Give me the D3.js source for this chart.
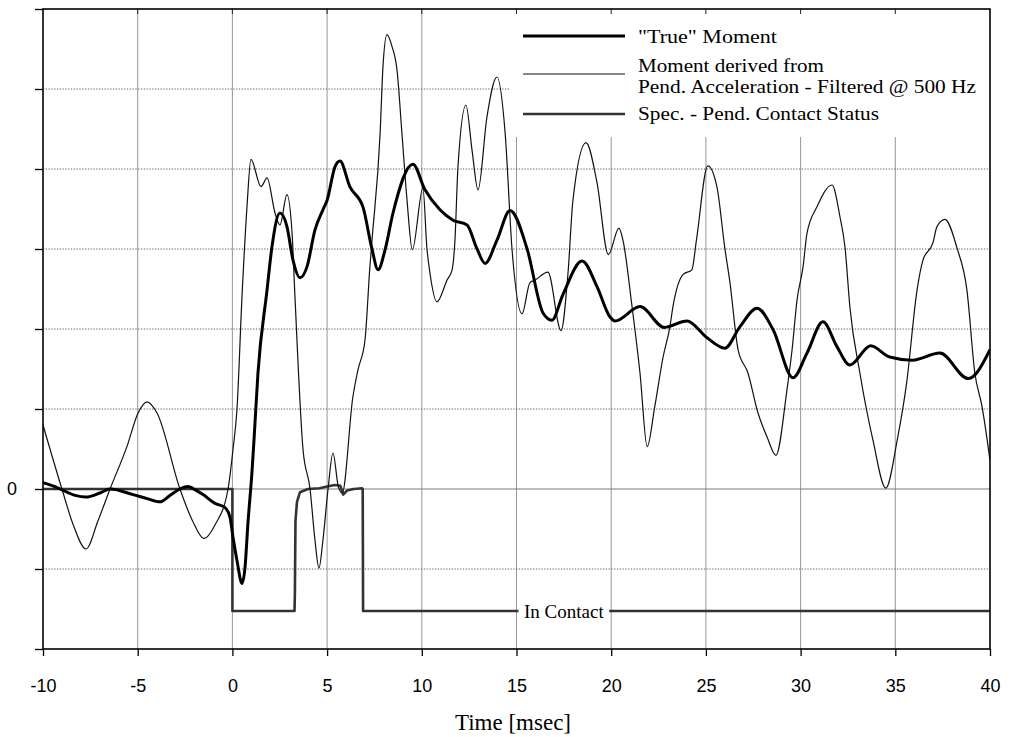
<!DOCTYPE html>
<html>
<head>
<meta charset="utf-8">
<script src="https://cdn.jsdelivr.net/npm/d3@7"></script>
<style>
  body { margin: 0; background: #fff; }
  svg { display: block; }
</style>
</head>
<body>
<svg id="chart" width="1014" height="737"></svg>
<script>
// ---- data -------------------------------------------------------------
const xTickValues = [-10, -5, 0, 5, 10, 15, 20, 25, 30, 35, 40];
const yGridValues = [-2, -1, 0, 1, 2, 3, 4, 5, 6];
const yLabelled = [0];

// "True" moment
const trueTime = [-10, -9.37, -9.0, -8.3, -7.73, -7.0, -6.46, -5.25, -4.5, -3.82, -3.3, -2.77, -2.35, -1.9, -1.55,
  -0.92, -0.4, -0.13, 0.03, 0.24, 0.51, 0.67, 0.82, 1.03, 1.14, 1.35, 1.83, 2.09, 2.51, 2.88, 3.2, 3.57, 3.94,
  4.36, 4.78, 5.0, 5.42, 5.68, 6.2, 6.9, 7.36, 7.69, 8.06, 8.48, 9.53, 10.17, 10.96, 11.65, 12.39, 12.9, 13.34,
  13.97, 14.66, 15.55, 16.4, 16.87, 17.45, 18.46, 19.25, 19.94, 20.2, 21.52, 22.8, 24.0, 25.06, 26.0, 26.8,
  27.7, 28.55, 29.6, 30.34, 31.18, 31.92, 32.6, 33.7, 34.7, 35.9, 37.35, 38.85, 40];
const trueMoment = [0.08, 0.03, -0.01, -0.08, -0.1, -0.05, 0, -0.07, -0.12, -0.16, -0.08, 0, 0.03, -0.02, -0.07,
  -0.18, -0.23, -0.35, -0.6, -0.89, -1.18, -0.97, -0.43, 0.2, 0.61, 1.45, 2.49, 3.03, 3.45, 3.28, 2.86, 2.64, 2.78,
  3.24, 3.49, 3.61, 4.03, 4.1, 3.78, 3.52, 3.01, 2.74, 2.99, 3.45, 4.06, 3.74, 3.49, 3.36, 3.3, 3.01, 2.82,
  3.11, 3.48, 3.01, 2.2, 2.11, 2.43, 2.85, 2.53, 2.15, 2.1, 2.28, 2.02, 2.1, 1.89, 1.76, 2.03,
  2.26, 1.99, 1.39, 1.7, 2.09, 1.78, 1.55, 1.79, 1.65, 1.61, 1.7, 1.38, 1.74];

// Moment derived from pendulum acceleration (filtered @ 500 Hz)
const accelTime = [-10, -9.0, -8.4, -7.73, -7.1, -6.46, -5.57, -4.98, -4.51, -3.98, -2.77, -2.1, -1.5, -0.92,
  -0.23, 0.03, 0.24, 0.51, 0.77, 0.98, 1.51, 1.83, 2.25, 2.51, 2.88, 3.15, 3.3, 3.73, 4.1, 4.36, 4.57, 4.78,
  5.05, 5.31, 5.6, 5.8, 6.36, 6.63, 7.0, 7.26, 7.37, 7.8, 7.95, 8.16, 8.43, 8.69, 8.95, 9.22, 9.5, 10.06,
  10.27, 10.43, 10.8, 11.33, 11.6, 11.75, 11.91, 12.33, 12.65, 12.97, 13.44, 13.97, 14.4, 14.76, 15.29,
  15.71, 15.97, 16.66, 17.35, 17.72, 17.98, 18.67, 19.25, 19.85, 20.41, 20.62, 21.1, 21.52, 21.9, 22.3,
  22.74, 23.1, 23.26, 23.79, 24.26, 24.5, 25.1, 25.58, 26.0, 26.27, 26.7, 27.22, 27.75, 28.23, 28.7,
  29.28, 29.55, 29.81, 30.13, 30.34, 30.87, 31.66, 32.08, 32.35, 32.6, 33.13, 33.82, 34.5, 35.1, 35.6,
  36.15, 36.46, 36.99, 37.2, 37.62, 38.26, 38.78, 39.2, 39.58, 40];
const accelMoment = [0.8, 0, -0.45, -0.75, -0.4, 0, 0.53, 0.95, 1.09, 0.95, 0, -0.4, -0.62, -0.45,
  0, 0.49, 0.99, 2.42, 3.53, 4.12, 3.78, 3.89, 3.45, 3.3, 3.68, 3.2, 2.42, 0.49, 0, -0.64, -0.99, -0.64,
  0, 0.45, 0.02, -0.05, 1.15, 1.49, 1.86, 2.78, 3.11, 4.45, 5.28, 5.68, 5.53, 5.24, 4.45, 3.61, 2.99, 3.76,
  3.01, 2.7, 2.34, 2.61, 2.74, 3.11, 4.03, 4.8, 4.24, 3.74, 4.65, 5.15, 4.45, 3.01, 2.19,
  2.58, 2.61, 2.71, 1.98, 2.7, 3.61, 4.33, 3.83, 2.93, 3.26, 3.11, 2.28, 1.45, 0.53, 1.03,
  1.65, 2.03, 2.28, 2.68, 2.74, 3.11, 4.04, 3.78, 3.01, 2.58, 1.74, 1.45, 0.95, 0.65, 0.42,
  1.24, 1.74, 2.36, 2.78, 3.2, 3.53, 3.8, 3.4, 3.01, 2.28, 1.45, 0.61, 0.01, 0.61, 1.33,
  2.49, 2.86, 3.08, 3.28, 3.37, 3.01, 2.49, 1.45, 1.03, 0.36];

// Spec. - Pend. contact status
const contactTime = [-10, 0, 0.001, 3.28, 3.3, 3.33, 3.41, 3.57, 3.99, 4.6, 5.0, 5.4, 5.7, 5.85, 6.05, 6.4, 6.85, 6.88, 6.9, 40];
const contactState = [0, 0, -1.525, -1.525, -1.3, -0.4, -0.16, -0.04, 0, 0.01, 0.03, 0.05, 0.04, -0.07, -0.02, 0, 0.01, 0, -1.525, -1.525];

const legendLabels = ['"True" Moment', 'Moment derived from', 'Pend. Acceleration - Filtered @ 500 Hz', 'Spec. - Pend. Contact Status'];
const contactLabel = 'In Contact';
const xTitle = 'Time [msec]';

// ---- layout -----------------------------------------------------------
const svg = d3.select('#chart');
const plotLeft = 43, plotRight = 990, plotTop = 9, plotBottom = 649;
const x = d3.scaleLinear().domain([-10, 40]).range([plotLeft, plotRight]);
const y = d3.scaleLinear().domain([-2, 6]).range([plotBottom, plotTop]);

const sansFont = '"Liberation Sans", Arial, sans-serif';
const serifFont = '"Liberation Serif", "Times New Roman", serif';

svg.append('rect').attr('width', 1014).attr('height', 737).attr('fill', '#fff');

// gridlines
const grid = svg.append('g');
grid.append('g').selectAll('line')
  .data(xTickValues.filter(d => d > -10 && d < 40))
  .join('line')
  .attr('x1', d => x(d)).attr('x2', d => x(d))
  .attr('y1', plotTop).attr('y2', plotBottom)
  .attr('stroke', '#8c8c8c').attr('stroke-width', 0.9);
grid.append('g').selectAll('line')
  .data(yGridValues.filter(d => d > -2 && d < 6))
  .join('line')
  .attr('x1', plotLeft).attr('x2', plotRight)
  .attr('y1', d => y(d)).attr('y2', d => y(d))
  .attr('stroke', d => d === 0 ? '#7a7a7a' : '#555')
  .attr('stroke-width', d => d === 0 ? 1.2 : 1)
  .attr('stroke-dasharray', d => d === 0 ? null : '1.2,1.6');

// legend background hides the gridlines behind it
svg.append('rect')
  .attr('x', 510).attr('y', plotTop).attr('width', plotRight - 510).attr('height', 128)
  .attr('fill', '#fff');

// small inward ticks along the top edge
svg.append('g').selectAll('line')
  .data(xTickValues.filter(d => d > -10 && d < 40))
  .join('line')
  .attr('x1', d => x(d)).attr('x2', d => x(d))
  .attr('y1', plotTop).attr('y2', plotTop + 5)
  .attr('stroke', '#222').attr('stroke-width', 1);

// series
svg.append('clipPath').attr('id', 'plotClip')
  .append('rect').attr('x', plotLeft).attr('y', plotTop)
  .attr('width', plotRight - plotLeft).attr('height', plotBottom - plotTop);

const lineSmooth = d3.line().x(d => x(d[0])).y(d => y(d[1])).curve(d3.curveMonotoneX);
const lineStep = d3.line().x(d => x(d[0])).y(d => y(d[1])).curve(d3.curveLinear);

const plot = svg.append('g').attr('clip-path', 'url(#plotClip)');

plot.append('path')
  .datum(contactTime.map((t, i) => [t, contactState[i]]))
  .attr('d', lineStep)
  .attr('fill', 'none').attr('stroke', '#333').attr('stroke-width', 2.6)
  .attr('stroke-linejoin', 'round');

plot.append('path')
  .datum(accelTime.map((t, i) => [t, accelMoment[i]]))
  .attr('d', lineSmooth)
  .attr('fill', 'none').attr('stroke', '#111').attr('stroke-width', 1.2)
  .attr('stroke-linejoin', 'round');

plot.append('path')
  .datum(trueTime.map((t, i) => [t, trueMoment[i]]))
  .attr('d', lineSmooth)
  .attr('fill', 'none').attr('stroke', '#000').attr('stroke-width', 3)
  .attr('stroke-linejoin', 'round');

// "In Contact" label on the contact-status line
const lab = svg.append('g');
const labX = x(17.5), labY = y(-1.525);
lab.append('rect')
  .attr('x', x(15) + 2).attr('y', labY - 11).attr('width', x(20) - x(15) - 4).attr('height', 20)
  .attr('fill', '#fff');
lab.append('text')
  .attr('x', labX).attr('y', labY + 7)
  .attr('text-anchor', 'middle')
  .attr('font-family', serifFont).attr('font-size', 19)
  .attr('fill', '#000')
  .text(contactLabel);

// axes
const xAxis = d3.axisBottom(x).tickValues(xTickValues).tickSize(7).tickPadding(23).tickFormat(d => String(d));
const gx = svg.append('g').attr('transform', `translate(0,${plotBottom})`).call(xAxis);
gx.select('.domain').remove();
gx.selectAll('line').attr('stroke', '#000').attr('stroke-width', 1.3);
gx.selectAll('text').attr('font-family', sansFont).attr('font-size', 18).attr('fill', '#000');

const yAxis = d3.axisLeft(y).tickValues(yGridValues).tickSize(8).tickPadding(18)
  .tickFormat(d => yLabelled.includes(d) ? String(d) : '');
const gy = svg.append('g').attr('transform', `translate(${plotLeft},0)`).call(yAxis);
gy.select('.domain').remove();
gy.selectAll('line').attr('stroke', '#000').attr('stroke-width', 1.3);
gy.selectAll('text').attr('font-family', sansFont).attr('font-size', 18).attr('fill', '#000');

// frame
svg.append('rect')
  .attr('x', plotLeft).attr('y', plotTop).attr('width', plotRight - plotLeft).attr('height', plotBottom - plotTop)
  .attr('fill', 'none').attr('stroke', '#000').attr('stroke-width', 1.6);

// axis title
svg.append('text')
  .attr('x', 513).attr('y', 730)
  .attr('text-anchor', 'middle')
  .attr('font-family', serifFont).attr('font-size', 23).attr('fill', '#000')
  .text(xTitle);

// legend
const leg = svg.append('g');
const legLines = [
  { y: 36, w: 3, c: '#000' },
  { y: 74, w: 1.2, c: '#111' },
  { y: 114, w: 2.6, c: '#333' }
];
leg.selectAll('line').data(legLines).join('line')
  .attr('x1', 523).attr('x2', 625)
  .attr('y1', d => d.y).attr('y2', d => d.y)
  .attr('stroke', d => d.c).attr('stroke-width', d => d.w);

const legText = [
  { t: legendLabels[0], y: 43, w: 139 },
  { t: legendLabels[1], y: 72, w: 186 },
  { t: legendLabels[2], y: 93, w: 338 },
  { t: legendLabels[3], y: 120, w: 241 }
];
leg.selectAll('text').data(legText).join('text')
  .attr('x', 638).attr('y', d => d.y)
  .attr('font-family', serifFont).attr('font-size', 19).attr('fill', '#000')
  .attr('textLength', d => d.w).attr('lengthAdjust', 'spacingAndGlyphs')
  .text(d => d.t);
</script>
</body>
</html>
